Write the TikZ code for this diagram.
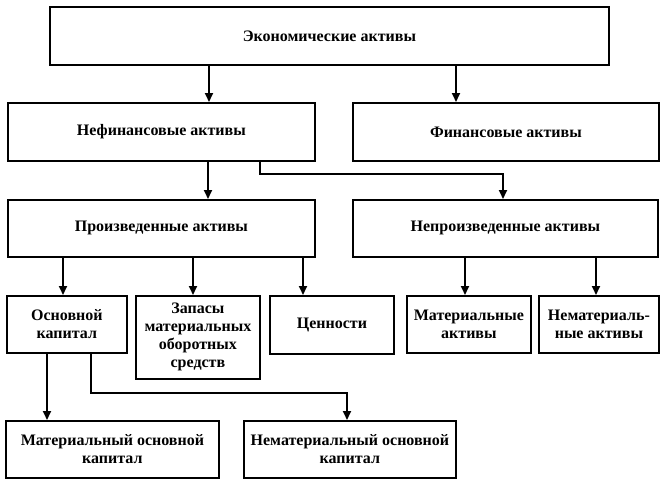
\documentclass[tikz,border=0pt]{standalone}
\usepackage{fontspec}
\setmainfont{Liberation Serif}
\usetikzlibrary{arrows.meta}

\begin{document}
\begin{tikzpicture}[x=1pt, y=-1pt, line width=1.8pt, >={Triangle[length=9pt,width=8pt]},
    box/.style = {draw, anchor=north west, align=center, inner sep=2pt, font=\fontsize{16}{18}\selectfont\bfseries}]
    \useasboundingbox (0,0) rectangle (664,479);

    % rows of boxes
    \node[box, minimum width=559pt, minimum height=58pt] (econ) at (49,6) {Экономические активы};
    \node[box, minimum width=307pt, minimum height=58pt] (nefin) at (7,102) {Нефинансовые активы};
    \node[box, minimum width=306pt, minimum height=58pt] (fin) at (352,102) {Финансовые активы};
    \node[box, minimum width=307pt, minimum height=57pt] (proizv) at (7,199) {Произведенные активы};
    \node[box, minimum width=305pt, minimum height=57pt] (neproizv) at (352,199) {Непроизведенные активы};
    \node[box, minimum width=120pt, minimum height=57pt] (osn) at (6,295) {Основной\\капитал};
    \node[box, minimum width=124pt, minimum height=83pt] (zapasy) at (135,295) {Запасы\\материальных\\оборотных\\средств};
    \node[box, minimum width=124pt, minimum height=58pt] (cenn) at (269,295) {Ценности};
    \node[box, minimum width=124pt, minimum height=57pt] (matakt) at (406,295) {Материальные\\активы};
    \node[box, minimum width=120pt, minimum height=57pt] (nematakt) at (538,295) {Нематериаль-\\ные активы};
    \node[box, minimum width=213pt, minimum height=57pt] (matosn) at (5,420) {Материальный основной\\капитал};
    \node[box, minimum width=212pt, minimum height=57pt] (nematosn) at (243,420) {Нематериальный основной\\капитал};

    % connectors
    \draw[->] (209,0 |- econ.south) -- (209,0 |- nefin.north);
    \draw[->] (456,0 |- econ.south) -- (456,0 |- fin.north);
    \draw[->] (208,0 |- nefin.south) -- (208,0 |- proizv.north);
    \draw[->] (260,0 |- nefin.south) |- (503,174) -- (503,0 |- neproizv.north);
    \draw[->] (63,0 |- proizv.south) -- (63,0 |- osn.north);
    \draw[->] (193,0 |- proizv.south) -- (193,0 |- zapasy.north);
    \draw[->] (303,0 |- proizv.south) -- (303,0 |- cenn.north);
    \draw[->] (465,0 |- neproizv.south) -- (465,0 |- matakt.north);
    \draw[->] (596,0 |- neproizv.south) -- (596,0 |- nematakt.north);
    \draw[->] (47,0 |- osn.south) -- (47,0 |- matosn.north);
    \draw[->] (91,0 |- osn.south) |- (347,393) -- (347,0 |- nematosn.north);
\end{tikzpicture}
\end{document}
